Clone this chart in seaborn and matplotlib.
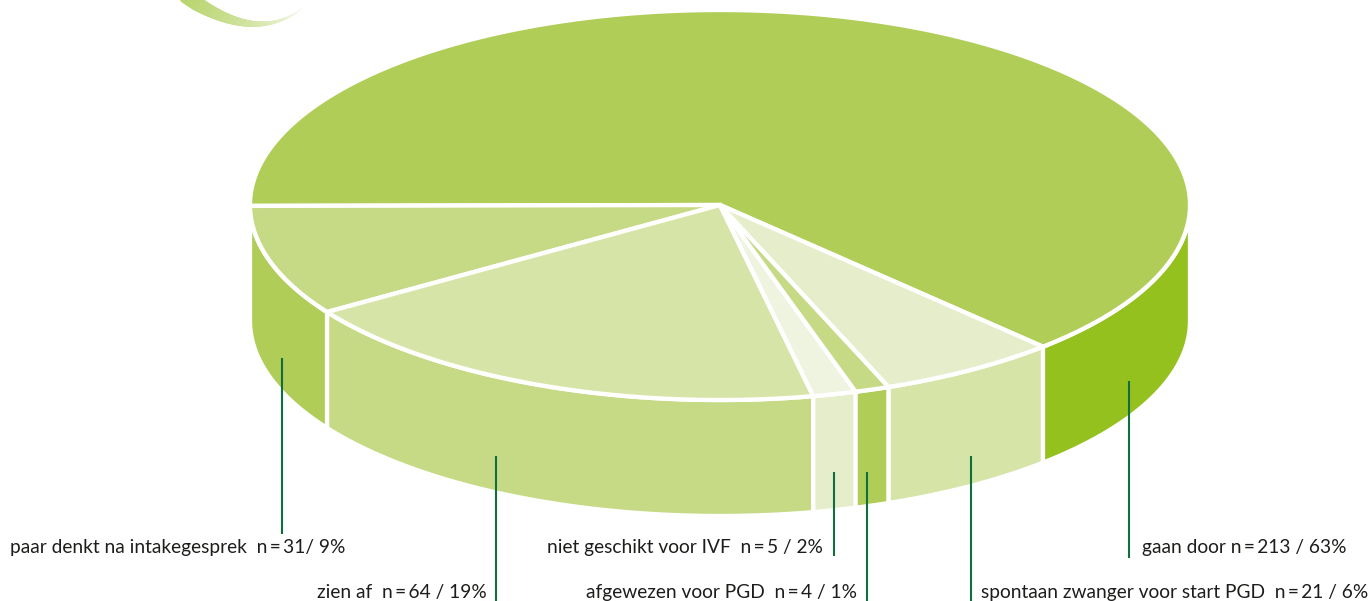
import numpy as np
import seaborn as sns
import matplotlib.pyplot as plt
from matplotlib.collections import LineCollection
from matplotlib.colors import to_rgb
from matplotlib.patches import Polygon

# slices, in drawing order (counter clockwise from the right hand edge)
labels = ['gaan door', 'paar denkt na intakegesprek', 'zien af',
          'niet geschikt voor IVF', 'afgewezen voor PGD',
          'spontaan zwanger voor start PGD']
counts = [213, 31, 64, 5, 4, 21]
percents = [63, 9, 19, 2, 1, 6]
value_texts = ['n\u2009=\u2009213 / 63%', 'n\u2009=\u200931/ 9%', 'n\u2009=\u200964 / 19%',
               'n\u2009=\u20095 / 2%', 'n\u2009=\u20094 / 1%', 'n\u2009=\u200921 / 6%']
label_gaps = [' ', '  ', '  ', '  ', '  ', '  ']

top_colors = ['#b0cd58', '#c6da86', '#d6e4a8', '#eff4e0', '#c6da86', '#e5edca']
side_colors = ['#95c11f', '#b0cd58', '#c6da86', '#e5edca', '#b0cd58', '#d6e4a8']

START = -46.6
CX, CY = 720, 205
RX, RY = 470, 195
DEPTH = 116
EDGE = 3.1
LEAD = '#0f6f3f'


def rim(a0, a1, dy=0):
    t = np.radians(np.linspace(a0, a1, max(2, int(abs(a1 - a0) * 4))))
    return np.column_stack([CX + RX * np.cos(t), CY + dy - RY * np.sin(t)])


sns.set_theme(style='white')
plt.rcParams['font.family'] = ['Lato', 'DejaVu Sans']

fig, ax = plt.subplots(figsize=(13.7, 6.01), dpi=100)
ax.set_position([0, 0, 1, 1])
ax.set_xlim(0, 1370)
ax.set_ylim(601, 0)
ax.axis('off')

# logo swoosh cut off at the top of the page
s = np.linspace(0, 1, 80)
sw_x = (1 - s) ** 2 * 180 + 2 * s * (1 - s) * 256 + s ** 2 * 305
sw_y = (1 - s) ** 2 * -8 + 2 * s * (1 - s) * 48 + s ** 2 * 6
sw = np.column_stack([sw_x, sw_y])
fade = ((1 - s) ** 0.7)[:, None]
sw_c = fade * np.array(to_rgb('#b5d368')) + (1 - fade)
ax.add_collection(LineCollection(np.stack([sw[:-1], sw[1:]], axis=1), linewidths=(11 * (1 - s) ** 1.5 + 0.4)[:-1],
                                 colors=sw_c[:-1], capstyle='projecting'))

edges = START + np.cumsum([0] + counts) / sum(counts) * 360

# side wall, only where the slice faces front (angles 180..360)
for i in range(len(counts)):
    a0, a1 = max(edges[i], 180), edges[i + 1]
    if i == 0:
        a0, a1 = START + 360, 360
    if a1 <= a0:
        continue
    pts = np.vstack([rim(a0, a1), rim(a1, a0, DEPTH)])
    ax.add_patch(Polygon(pts, closed=True, facecolor=side_colors[i], edgecolor='white', lw=EDGE, zorder=2))

# top of the pie
for i in range(len(counts)):
    pts = np.vstack([[CX, CY], rim(edges[i], edges[i + 1])])
    ax.add_patch(Polygon(pts, closed=True, facecolor=top_colors[i], edgecolor='white', lw=EDGE,
                         joinstyle='miter', zorder=3))

# leader lines: x, start y, end y
lead_x = [1129, 282, 496, 834, 867, 971]
lead_y0 = [381, 358, 456, 472, 472, 456]
lead_y1 = [558, 534, 601, 556, 601, 601]
ax.vlines(lead_x, lead_y0, lead_y1, color=LEAD, lw=1.5, zorder=4)

# label anchors
text_x = [1142, 10, 487, 823, 857, 981]
text_y = [553, 553, 598, 553, 598, 598]
text_ha = ['left', 'left', 'right', 'right', 'right', 'left']
for i, lab in enumerate(labels):
    ax.text(text_x[i], text_y[i], lab + label_gaps[i] + value_texts[i], ha=text_ha[i], va='baseline',
            fontsize=13.75, color='#1d1d1b', zorder=5)

fig.savefig('out.png', dpi=100, facecolor='white')
